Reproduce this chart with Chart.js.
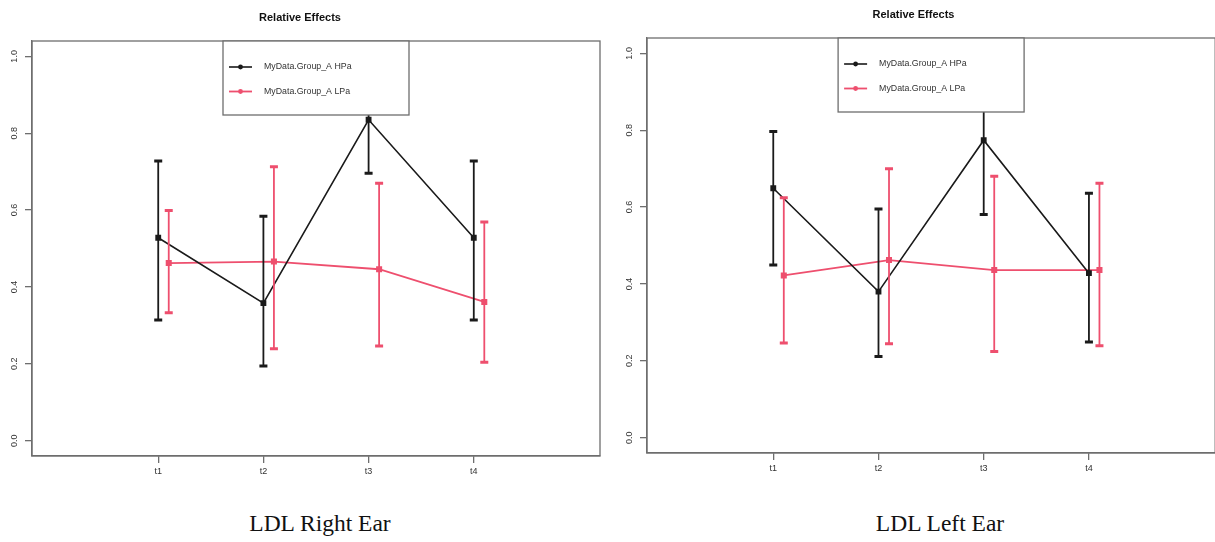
<!DOCTYPE html>
<html>
<head>
<meta charset="utf-8">
<script src="https://cdn.jsdelivr.net/npm/chart.js@4"></script>
<style>
  body { margin: 0; background: #fff; width: 1215px; height: 542px; overflow: hidden; position: relative; }
  .wrap { position: absolute; height: 480px; }
  .caption { position: absolute; top: 510px; font-family: "Liberation Serif", "Times New Roman", serif; font-size: 23.5px; color: #111; transform: translateX(-50%); white-space: nowrap; }
</style>
</head>
<body>
<div class="wrap" style="left:0;top:0;width:608px"><canvas id="rightEar"></canvas></div>
<div class="wrap" style="left:608px;top:-3px;width:612px"><canvas id="leftEar"></canvas></div>
<div class="caption" style="left:320px">LDL Right Ear</div>
<div class="caption" style="left:940px">LDL Left Ear</div>
<script>
const timeLabels = ['t1', 't2', 't3', 't4'];
const seriesNames = ['MyData.Group_A HPa', 'MyData.Group_A LPa'];
const yTicks = [0, 0.2, 0.4, 0.6, 0.8, 1.0];

// LDL Right Ear
const rightHPa = [0.528, 0.358, 0.835, 0.528];
const rightHPaLower = [0.314, 0.194, 0.696, 0.314];
const rightHPaUpper = [0.728, 0.584, 0.95, 0.728];
const rightLPa = [0.462, 0.466, 0.446, 0.361];
const rightLPaLower = [0.333, 0.239, 0.246, 0.204];
const rightLPaUpper = [0.599, 0.713, 0.670, 0.569];

// LDL Left Ear
const leftHPa = [0.649, 0.380, 0.774, 0.428];
const leftHPaLower = [0.449, 0.211, 0.581, 0.249];
const leftHPaUpper = [0.797, 0.595, 0.95, 0.636];
const leftLPa = [0.422, 0.462, 0.436, 0.436];
const leftLPaLower = [0.246, 0.244, 0.224, 0.239];
const leftLPaUpper = [0.624, 0.700, 0.680, 0.662];

const colors = ['#1a1a1a', '#EE4F6E'];
const dodge = 0.1;
const axisColor = '#6e6e6e';
const textColor = '#333';

function pontos(vals, lo, hi, shift) {
  return vals.map((v, i) => ({ x: i + 1 + shift, y: v, lo: lo[i], hi: hi[i] }));
}

// barras de erro (IC) desenhadas pela escala
const errorBars = {
  id: 'errorBars',
  afterDatasetsDraw(chart) {
    const ctx = chart.ctx;
    const ys = chart.scales.y;
    chart.data.datasets.forEach((ds, i) => {
      const meta = chart.getDatasetMeta(i);
      ctx.save();
      ctx.strokeStyle = ds.borderColor;
      ds.data.forEach((p, j) => {
        const x = meta.data[j].x;
        const yLo = ys.getPixelForValue(p.lo);
        const yHi = ys.getPixelForValue(p.hi);
        ctx.lineWidth = 1.8;
        ctx.beginPath();
        ctx.moveTo(x, yLo); ctx.lineTo(x, yHi);
        ctx.stroke();
        ctx.lineWidth = 3;
        ctx.beginPath();
        ctx.moveTo(x - 4, yLo); ctx.lineTo(x + 4, yLo);
        ctx.moveTo(x - 4, yHi); ctx.lineTo(x + 4, yHi);
        ctx.stroke();
      });
      ctx.restore();
    });
  }
};

// moldura, rótulos do eixo y girados e legenda no topo
const moldura = {
  id: 'moldura',
  afterDraw(chart) {
    const ctx = chart.ctx;
    const a = chart.chartArea;
    const ys = chart.scales.y;
    ctx.save();
    ctx.strokeStyle = axisColor;
    ctx.lineWidth = 1.3;
    ctx.strokeRect(a.left, a.top, a.right - a.left, a.bottom - a.top);

    ctx.fillStyle = textColor;
    ctx.font = '9px "Liberation Sans", Arial, sans-serif';
    ctx.textAlign = 'center';
    ctx.textBaseline = 'middle';
    yTicks.forEach(t => {
      const y = ys.getPixelForValue(t);
      ctx.save();
      ctx.translate(a.left - 17, y);
      ctx.rotate(-Math.PI / 2);
      ctx.fillText(t.toFixed(1), 0, 0);
      ctx.restore();
    });

    // legenda
    const w = 186, h = 74;
    const lx = (a.left + a.right) / 2 - w / 2;
    const ly = a.top;
    ctx.fillStyle = '#fff';
    ctx.fillRect(lx, ly, w, h);
    ctx.strokeRect(lx, ly, w, h);
    ctx.font = '8.8px "Liberation Sans", Arial, sans-serif';
    ctx.textAlign = 'left';
    chart.data.datasets.forEach((ds, i) => {
      const ry = ly + 26 + i * 24.5;
      ctx.strokeStyle = ds.borderColor;
      ctx.lineWidth = ds.borderWidth;
      ctx.beginPath();
      ctx.moveTo(lx + 6, ry); ctx.lineTo(lx + 29, ry);
      ctx.stroke();
      ctx.fillStyle = ds.borderColor;
      ctx.beginPath();
      ctx.arc(lx + 17.5, ry, 2.4, 0, Math.PI * 2);
      ctx.fill();
      ctx.fillStyle = textColor;
      ctx.fillText(ds.label, lx + 41, ry);
    });
    ctx.restore();
  }
};

function grafico(canvasId, hpa, hpaLo, hpaHi, lpa, lpaLo, lpaHi, yWidth, padRight) {
  const ctx = document.getElementById(canvasId).getContext('2d');
  new Chart(ctx, {
    type: 'line',
    data: {
      datasets: [
        { label: seriesNames[0], data: pontos(hpa, hpaLo, hpaHi, 0), borderColor: colors[0], backgroundColor: colors[0], borderWidth: 1.6 },
        { label: seriesNames[1], data: pontos(lpa, lpaLo, lpaHi, dodge), borderColor: colors[1], backgroundColor: colors[1], borderWidth: 1.8 }
      ]
    },
    options: {
      responsive: true,
      maintainAspectRatio: false,
      animation: false,
      layout: { padding: { right: padRight, left: 0, top: 0, bottom: 0 } },
      elements: {
        line: { tension: 0 },
        point: { pointStyle: 'rect', radius: 3, hoverRadius: 3, borderWidth: 0 }
      },
      scales: {
        x: {
          type: 'linear', min: -0.2, max: 5.2,
          afterBuildTicks: s => { s.ticks = timeLabels.map((_, i) => ({ value: i + 1 })); },
          afterFit: s => { s.height = 24; },
          ticks: {
            color: textColor, padding: 3, maxRotation: 0,
            font: { family: '"Liberation Sans", Arial, sans-serif', size: 9 },
            callback: v => timeLabels[v - 1]
          },
          grid: { drawOnChartArea: false, color: axisColor, tickLength: 7, lineWidth: 1.3 },
          border: { color: axisColor, width: 1.3 }
        },
        y: {
          min: -0.04, max: 1.04,
          afterBuildTicks: s => { s.ticks = yTicks.map(v => ({ value: v })); },
          afterFit: s => { s.width = yWidth; },
          ticks: { display: false },
          grid: { drawOnChartArea: false, color: axisColor, tickLength: 7, lineWidth: 1.3 },
          border: { color: axisColor, width: 1.3 }
        }
      },
      plugins: {
        legend: { display: false },
        tooltip: { enabled: false },
        title: {
          display: true, text: 'Relative Effects', color: '#111',
          font: { family: '"Liberation Sans", Arial, sans-serif', size: 11, weight: 'bold' },
          padding: { top: 11, bottom: 16.8 }
        }
      }
    },
    plugins: [errorBars, moldura]
  });
}

grafico('rightEar', rightHPa, rightHPaLower, rightHPaUpper, rightLPa, rightLPaLower, rightLPaUpper, 32, 8);
grafico('leftEar', leftHPa, leftHPaLower, leftHPaUpper, leftLPa, leftLPaLower, leftLPaUpper, 39, 1);
</script>
</body>
</html>
